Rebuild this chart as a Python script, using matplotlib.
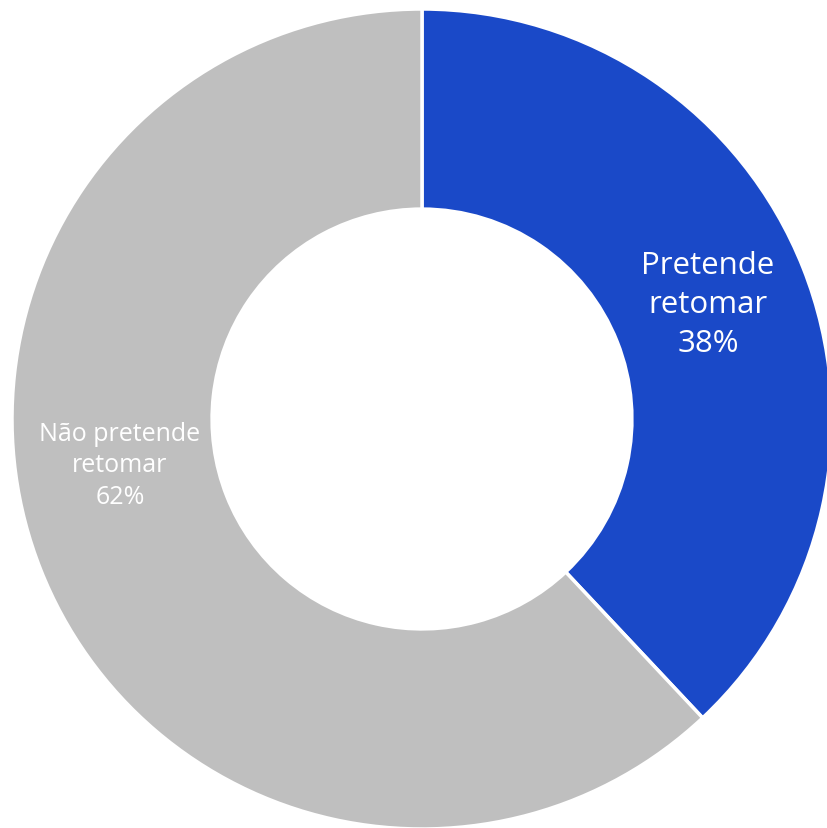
import matplotlib.pyplot as plt

labels = ['Pretende\nretomar', 'Não pretende\nretomar']
values = [38, 62]
colors = ['#1A49C8', '#BFBFBF']

W, H = 828, 829
cx, cy, R = 422, 420, 410  # centre and outer radius in px

fig = plt.figure(figsize=(W / 100, H / 100), dpi=100)
ax = fig.add_axes([0, 0, 1, 1])

wedges, _ = ax.pie(values, colors=colors, startangle=90, counterclock=False,
                   radius=1.0, wedgeprops=dict(width=0.488, edgecolor='white', linewidth=2.5))

# pie() resets the limits, so set them afterwards
ax.set_xlim(-cx / R, (W - cx) / R)
ax.set_ylim(-(H - cy) / R, cy / R)
ax.set_aspect('equal')
ax.axis('off')

# data labels placed inside the ring
pos = [((708 - cx) / R, (cy - 305) / R, 22.5, 1.4), ((120 - cx) / R, (cy - 466) / R, 18, 1.35)]
for lab, v, (x, y, fs, ls) in zip(labels, values, pos):
    ax.text(x, y, f'{lab}\n{v}%', ha='center', va='center', color='white',
            fontsize=fs, family='Open Sans', linespacing=ls)

fig.savefig('out.png', dpi=100)
